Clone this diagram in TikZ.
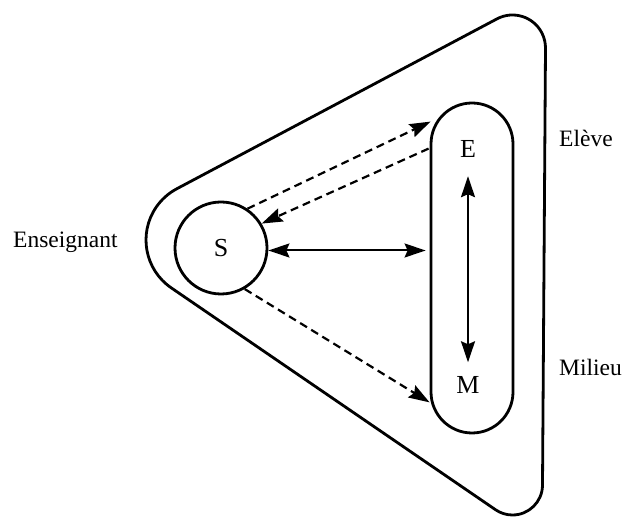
\documentclass[tikz,border=0pt]{standalone}
\usepackage{fontspec}
\setmainfont{Liberation Serif}
\usetikzlibrary{arrows.meta,calc}
\begin{document}
\begin{tikzpicture}[x=1pt,y=1pt,
  >={Stealth[length=21pt,width=14pt,inset=3pt]},
  outline/.style={line width=2.8pt},
  conn/.style={line width=2pt},
  dsh/.style={line width=2.2pt,dash pattern=on 8pt off 5pt},
  inlab/.style={font=\fontsize{26}{29}\selectfont,inner sep=0pt},
  outlab/.style={font=\fontsize{23.5}{27}\selectfont,inner sep=0pt,anchor=base west}]
\useasboundingbox (0,0) rectangle (629,518);
% outer rounded triangle (hull of three circles)
\coordinate (C1) at (204,278);
\coordinate (C2) at (512.5,470);
\coordinate (C3) at (512.5,33);
\pgfmathsetmacro{\nAB}{atan2(470-278,512.5-204)+acos((58-33)/veclen(512.5-204,470-278))}
\pgfmathsetmacro{\nBC}{atan2(33-470,0)+acos((33-30)/veclen(0,33-470))}
\pgfmathsetmacro{\nCA}{atan2(278-33,204-512.5)+acos((30-58)/veclen(204-512.5,278-33))}
\draw[outline] ($(C1)+(\nAB:58)$) -- ($(C2)+(\nAB:33)$)
  arc[start angle=\nAB, end angle=\nBC, radius=33]
  -- ($(C3)+(\nBC:30)$)
  arc[start angle=\nBC, end angle=\nCA-360, radius=30]
  -- ($(C1)+(\nCA:58)$)
  arc[start angle=\nCA, end angle=\nAB, radius=58] -- cycle;
% nodes
\node[draw,outline,circle,minimum size=92pt,inner sep=0pt,font=\fontsize{26}{29}\selectfont] (S) at (221,270) {S};
\node[draw,outline,rectangle,rounded corners=41pt,minimum width=82pt,minimum height=330pt,inner sep=0pt] (EM) at (472,250) {};
\node[inlab] (E) at (468,369.5) {E};
\node[inlab] (M) at (468,133) {M};
\node[outlab] (ens) at (13,270) {Enseignant};
\node[outlab] (ele) at (559,371) {Elève};
\node[outlab] (mil) at (559,142) {Milieu};
% connectors
\coordinate (h) at ($(EM.west)+(-4,17.5)$);
\draw[conn,<->] (S.east |- h) -- (h);
\draw[conn,<->] ([yshift=-19pt]E.south) -- ([yshift=14pt]M.north);
\coordinate (d1) at ($(EM.north west)+(1,-20)$);
\coordinate (d2) at ($(EM.north west)+(-1,-47)$);
\coordinate (d3) at ($(EM.south west)+(0,32)$);
\draw[dsh,->] (S.56) -- (d1);
\draw[dsh,->] (d2) -- (S.31);
\draw[dsh,->] (S.-60) -- (d3);
\end{tikzpicture}
\end{document}
